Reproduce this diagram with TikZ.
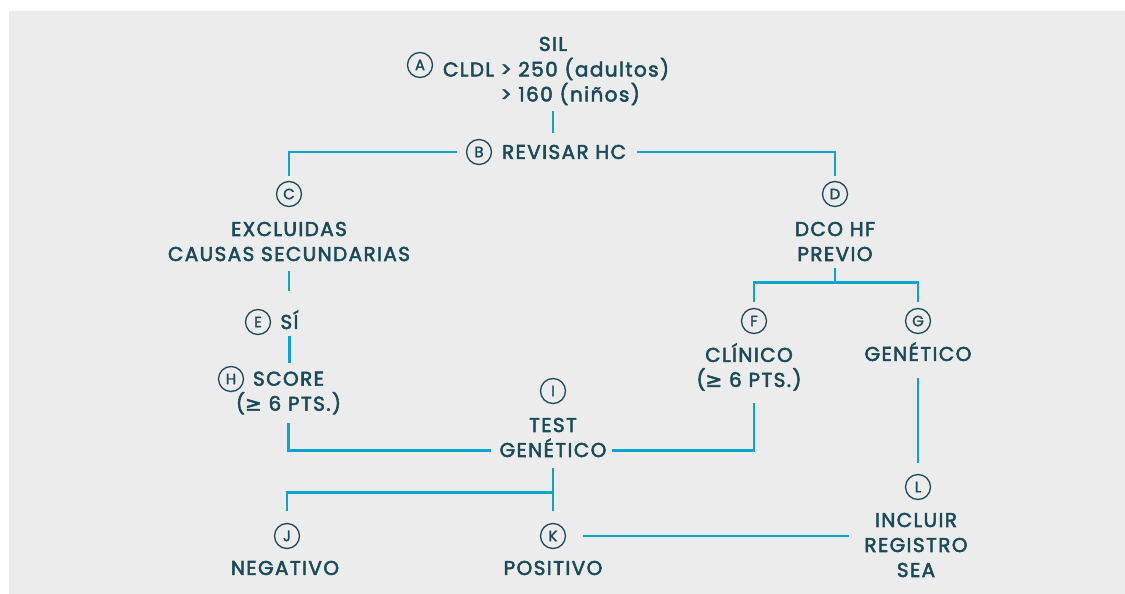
\documentclass[tikz,border=0pt]{standalone}
\usepackage{fontspec}
\setmainfont{Poppins}[LetterSpace=7,FakeBold=2.6]
\newfontfamily\dejavu{DejaVu Sans}[FakeBold=2.6]
\newfontfamily\tagfont{Poppins}[FakeBold=1.6]
\usepackage{tikz}
\usetikzlibrary{positioning,calc}
\definecolor{bgray}{HTML}{ECECEC}
\definecolor{ink}{HTML}{1A4B58}
\definecolor{cyanline}{HTML}{0BA4CA}
\newcommand{\gesym}{{\dejavu ≥}}
\tikzset{tag/.style={draw=ink,circle,line width=1.3pt,minimum size=25pt,inner sep=0pt,outer sep=0pt,text=ink,font=\tagfont\fontsize{15}{15}\selectfont}}
\tikzset{lbl/.style={text=ink,inner sep=0pt,outer sep=0pt,align=center,font=\fontsize{20}{25}\selectfont}}
\tikzset{one/.style={lbl,text height=13.9pt,text depth=0pt}}

\begin{document}
\begin{tikzpicture}[x=1pt, y=-1pt, link/.style={draw=cyanline,line width=2.7pt}]
\useasboundingbox (0,0) rectangle (1125,594);
\fill[bgray] (9,11) rectangle (1125,594);
    % top block
    \node[one] (sil) at (553,44) {SIL};
    \node[tag] (cA) at (420,65) {A};
    \node[lbl, align=left, anchor=west] (tA) at (443,81.5) {CLDL > 250 (adultos)\\\phantom{CLDL} > 160 (niños)};
    \node[tag] (cB) at (479,152) {B};
    \node[one, anchor=west] (tB) at (502,152) {REVISAR HC};
    % left branch
    \node[tag] (cC) at (289,194) {C};
    \node[lbl] (tC) at (289,241.5) {EXCLUIDAS\\CAUSAS SECUNDARIAS};
    \node[tag] (cE) at (258,322) {E};
    \node[one] (tE) at (289.5,322) {SÍ};
    \node[tag] (cH) at (231,379) {H};
    \node[lbl] (tH) at (288.5,393) {SCORE\\(\gesym{} 6 PTS.)};
    % right branch
    \node[tag] (cD) at (835,194) {D};
    \node[lbl] (tD) at (835,241.5) {DCO HF\\PREVIO};
    \node[tag] (cF) at (754,321) {F};
    \node[lbl] (tF) at (749,367) {CLÍNICO\\(\gesym{} 6 PTS.)};
    \node[tag] (cG) at (918,321) {G};
    \node[one] (tG) at (918,354) {GENÉTICO};
    % middle and bottom
    \node[tag] (cI) at (553,391) {I};
    \node[lbl] (tI) at (553,437.5) {TEST\\GENÉTICO};
    \node[tag] (cJ) at (287,536) {J};
    \node[one] (tJ) at (285,568) {NEGATIVO};
    \node[tag] (cK) at (553,536) {K};
    \node[one] (tK) at (553,568) {POSITIVO};
    \node[tag] (cL) at (918,487) {L};
    \node[lbl] (tL) at (916,545) {INCLUIR\\REGISTRO\\SEA};
    % connectors
    \draw[link, shorten <=6pt, shorten >=12pt] (sil |- tA.south) -- (sil |- tB.north);
    \draw[link, shorten <=10pt, shorten >=6pt] (cB.west) -| (cC.north);
    \draw[link, shorten <=11pt, shorten >=6pt] (tB.east) -| (cD.north);
    \draw[link, shorten <=10pt, shorten >=24pt] (tC.south) -- (tC.south |- tE.north);
    \draw[link, shorten <=7pt, shorten >=9pt] (tE.south) -- (tE.south |- tH.north);
    \draw[link, shorten <=9pt, shorten >=9pt] (tH.south) |- ([yshift=6.9pt]tI.south west);
    \draw[link, shorten <=6pt, shorten >=12pt] ([yshift=6.9pt]tI.south east) -| (tF.south -| cF);
    \draw[link, shorten <=7pt] (tD.south) -- ++(0,22);
    \draw[link, shorten <=7pt, shorten >=7pt] (cF.north) -- ([yshift=26pt]cF.north) -| (cG.north);
    \draw[link, shorten <=17pt, shorten >=12pt] (tG.south) -- (cL.north);
    \draw[link, shorten <=11pt, shorten >=13pt] (tI.south) -- (cK.north);
    \draw[link, shorten <=13pt] (cJ.north) |- ([yshift=31pt]cK.north);
    \draw[link, shorten <=17pt, shorten >=15pt] (cK.east) -- (cK.east -| tL.west);
\end{tikzpicture}
\end{document}
